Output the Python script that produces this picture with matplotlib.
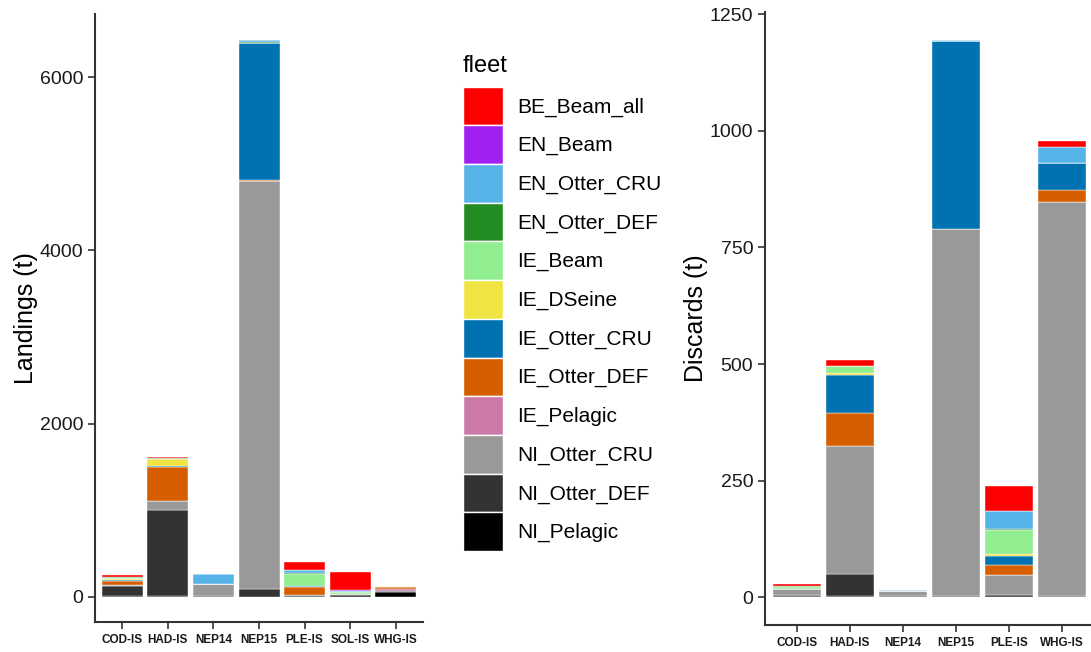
import matplotlib
matplotlib.use('Agg')
import matplotlib.pyplot as plt
from matplotlib.patches import Patch
import numpy as np

plt.rcParams['font.family'] = ['Liberation Sans', 'DejaVu Sans']

fleets = ['BE_Beam_all', 'EN_Beam', 'EN_Otter_CRU', 'EN_Otter_DEF', 'IE_Beam',
          'IE_DSeine', 'IE_Otter_CRU', 'IE_Otter_DEF', 'IE_Pelagic',
          'NI_Otter_CRU', 'NI_Otter_DEF', 'NI_Pelagic']
colors = ['#FF0000', '#A020F0', '#56B4E9', '#228B22', '#90EE90', '#F0E442',
          '#0072B2', '#D55E00', '#CC79A7', '#999999', '#333333', '#000000']

landing_stocks = ['COD-IS', 'HAD-IS', 'NEP14', 'NEP15', 'PLE-IS', 'SOL-IS', 'WHG-IS']
discard_stocks = ['COD-IS', 'HAD-IS', 'NEP14', 'NEP15', 'PLE-IS', 'WHG-IS']

# landings (t) per fleet, one value per stock
landings = {
    'BE_Beam_all':  [15, 15, 0, 0, 95, 210, 0],
    'EN_Beam':      [0, 0, 0, 0, 0, 10, 0],
    'EN_Otter_CRU': [0, 0, 115, 20, 35, 12, 0],
    'EN_Otter_DEF': [12, 5, 0, 10, 5, 0, 0],
    'IE_Beam':      [15, 5, 0, 0, 150, 15, 0],
    'IE_DSeine':    [5, 75, 0, 0, 0, 0, 5],
    'IE_Otter_CRU': [15, 10, 0, 1590, 10, 0, 0],
    'IE_Otter_DEF': [45, 395, 0, 10, 85, 5, 25],
    'IE_Pelagic':   [0, 0, 0, 0, 0, 0, 20],
    'NI_Otter_CRU': [20, 110, 130, 4710, 5, 10, 0],
    'NI_Otter_DEF': [110, 990, 10, 90, 15, 20, 10],
    'NI_Pelagic':   [10, 10, 5, 0, 5, 3, 60],
}

# discards (t) per fleet, one value per stock
discards = {
    'BE_Beam_all':  [4, 13, 0, 0, 53, 14],
    'EN_Beam':      [0, 0, 0, 0, 0, 0],
    'EN_Otter_CRU': [0, 0, 2, 2, 38, 33],
    'EN_Otter_DEF': [2, 0, 0, 0, 3, 0],
    'IE_Beam':      [3, 15, 0, 0, 52, 0],
    'IE_DSeine':    [0, 4, 0, 0, 4, 0],
    'IE_Otter_CRU': [0, 82, 0, 404, 20, 59],
    'IE_Otter_DEF': [0, 70, 0, 0, 20, 25],
    'IE_Pelagic':   [0, 0, 0, 0, 0, 0],
    'NI_Otter_CRU': [14, 275, 11, 788, 44, 846],
    'NI_Otter_DEF': [1, 48, 0, 0, 3, 0],
    'NI_Pelagic':   [3, 2, 2, 2, 1, 2],
}


def stacked(ax, stocks, table, ylabel, ylim, yticks, xlim):
    x = np.arange(1, len(stocks) + 1)
    bottom = np.zeros(len(stocks))
    # ggplot stacks the first factor level on top, so draw from the last one
    for fleet, col in zip(reversed(fleets), reversed(colors)):
        vals = np.array(table[fleet], dtype=float)
        ax.bar(x, vals, 0.9, bottom=bottom, color=col, edgecolor='white',
               linewidth=0.3)
        bottom += vals
    ax.set_xticks(x)
    ax.set_xticklabels(stocks, fontsize=8.5, fontweight='bold', color='#1a1a1a')
    ax.set_yticks(yticks)
    ax.tick_params(axis='y', labelsize=14, labelcolor='#1a1a1a')
    ax.tick_params(length=5, width=1.2, color='#333333')
    ax.set_xlim(*xlim)
    ax.set_ylim(*ylim)
    ax.set_ylabel(ylabel, fontsize=18, labelpad=1)
    for s in ['top', 'right']:
        ax.spines[s].set_visible(False)
    for s in ['left', 'bottom']:
        ax.spines[s].set_linewidth(1.5)
        ax.spines[s].set_color('#333333')


fig = plt.figure(figsize=(10.91, 6.52), dpi=100)
ax1 = fig.add_axes([0.0871, 0.046, 0.3006, 0.9325])
ax2 = fig.add_axes([0.7012, 0.0414, 0.3016, 0.940])

stacked(ax1, landing_stocks, landings, 'Landings (t)', (-290, 6730),
        [0, 2000, 4000, 6000], (0.4, 7.6))
stacked(ax2, discard_stocks, discards, 'Discards (t)', (-60, 1255),
        [0, 250, 500, 750, 1000, 1250], (0.4, 6.6))

fig.text(0.4244, 0.890, 'fleet', fontsize=17, va='baseline', ha='left')
handles = [Patch(facecolor=c, edgecolor='white', linewidth=1) for c in colors]
leg = fig.legend(handles, fleets, loc='upper left', bbox_to_anchor=(0.4244, 0.867),
                 frameon=False, fontsize=15, handlelength=1.92, handleheight=2.48,
                 labelspacing=0, handletextpad=0.67, borderpad=0, borderaxespad=0)

plt.savefig('out.png', dpi=100)
